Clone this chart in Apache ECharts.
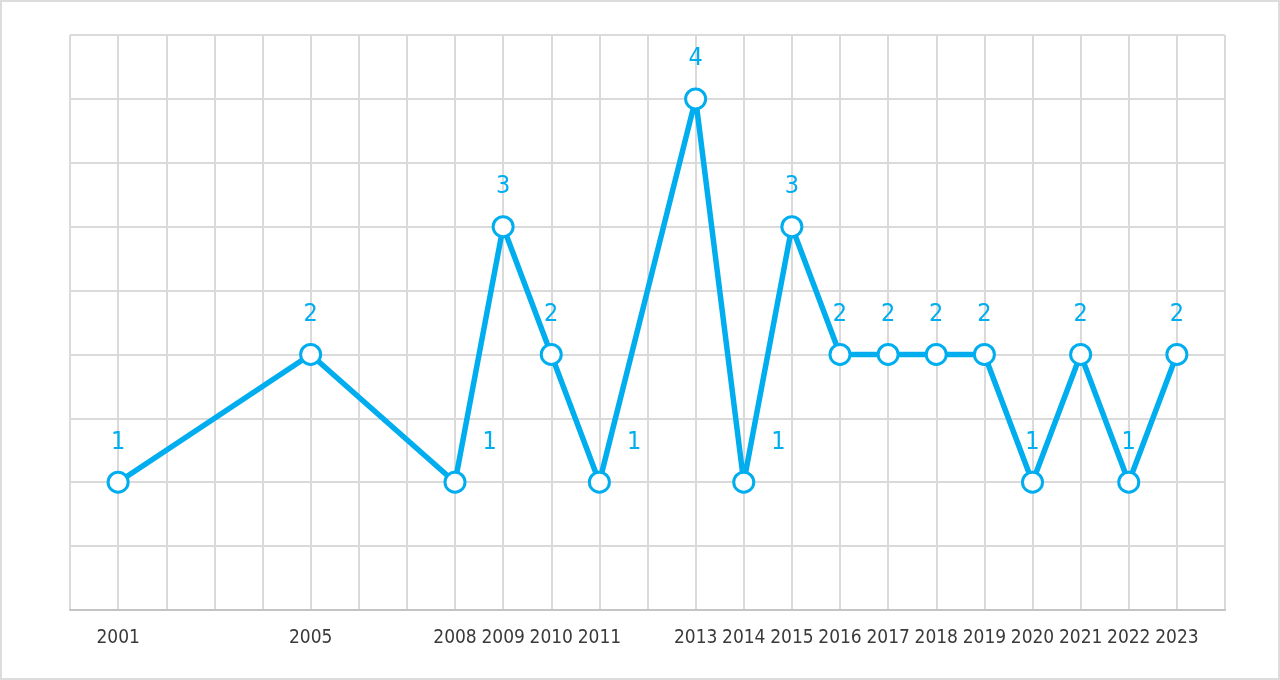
<!DOCTYPE html>
<html>
<head>
<meta charset="utf-8">
<script src="https://cdn.jsdelivr.net/npm/echarts@6/dist/echarts.min.js"></script>
<style>
	html, body { margin: 0; padding: 0; background: #fff; }
	#chart {
		width: 1280px;
		height: 680px;
		box-sizing: border-box;
		border: 2px solid #dcdcdc;
	}
</style>
</head>
<body>
<div id="chart"></div>
<script>
// Years that have an entry, and the count for each
const years = [2001, 2005, 2008, 2009, 2010, 2011, 2013, 2014, 2015, 2016, 2017, 2018, 2019, 2020, 2021, 2022, 2023];
const counts = [1, 2, 1, 3, 2, 1, 4, 1, 3, 2, 2, 2, 2, 1, 2, 1, 2];

// x range of the plot (one empty year on each side)
const yearMin = 2000;
const yearMax = 2024;

const FONT = "'DejaVu Sans Condensed', 'Liberation Sans Narrow', sans-serif";
const BLUE = "#00aeef";

// labels at these low points sit to the right of the line instead of above
const sideLabels = [2008, 2011, 2014];

const chart = echarts.init(document.getElementById("chart"), null, { renderer: "canvas" });

const seriesData = years.map((y, i) => {
	const item = { value: [y, counts[i]] };
	if (sideLabels.includes(y)) {
		item.label = { position: "right", distance: 16, offset: [0, -40] };
	}
	return item;
});

chart.setOption({
	backgroundColor: "#fff",
	animation: false,
	grid: { left: 68, right: 53, top: 33, bottom: 68 },
	xAxis: {
		type: "value",
		min: yearMin,
		max: yearMax,
		interval: 1,
		axisLine: { show: true, lineStyle: { color: "#c4c4c4", width: 2 } },
		axisTick: { show: false },
		splitLine: { show: true, lineStyle: { color: "#dadada", width: 2 } },
		axisLabel: {
			color: "#3a3a3a",
			fontFamily: FONT,
			fontSize: 19,
			margin: 19,
			formatter: (v) => (years.includes(v) ? String(v) : ""),
		},
	},
	yAxis: {
		type: "value",
		min: 0,
		max: 4.5,
		interval: 0.5,
		axisLine: { show: false },
		axisTick: { show: false },
		axisLabel: { show: false },
		splitLine: { show: true, lineStyle: { color: "#dadada", width: 2 } },
	},
	series: [
		{
			type: "line",
			data: seriesData,
			lineStyle: { color: BLUE, width: 5.5 },
			itemStyle: { color: "#fff", borderColor: BLUE, borderWidth: 3 },
			symbol: "circle",
			symbolSize: 20,
			showAllSymbol: true,
			z: 3,
			label: {
				show: true,
				position: "top",
				distance: 16,
				color: BLUE,
				fontFamily: FONT,
				fontSize: 25,
				formatter: (p) => String(p.value[1]),
			},
		},
	],
});
</script>
</body>
</html>
